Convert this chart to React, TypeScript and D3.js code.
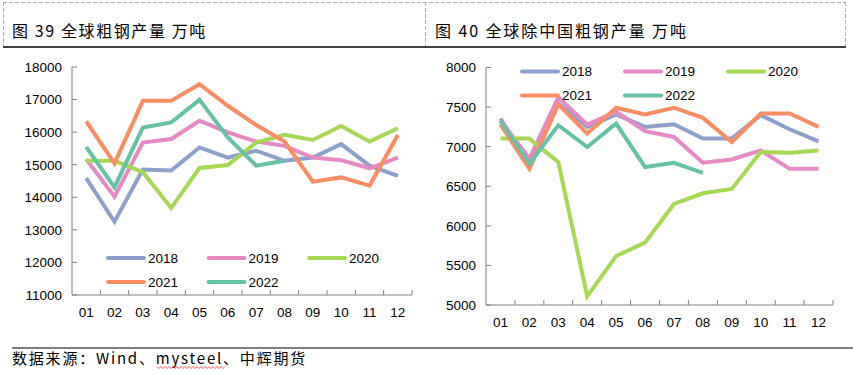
import React from 'react';
import * as d3 from 'd3';

const months = ['01', '02', '03', '04', '05', '06', '07', '08', '09', '10', '11', '12'];
const years = ['2018', '2019', '2020', '2021', '2022'];
const colors = ['#8da0cb', '#e78ac3', '#a6d854', '#fc8d62', '#66c2a5'];

// 全球粗钢产量 万吨
const world2018 = [14590, 13250, 14850, 14820, 15530, 15220, 15430, 15120, 15220, 15630, 14970, 14660];
const world2019 = [15170, 14020, 15680, 15790, 16350, 15990, 15710, 15580, 15220, 15140, 14890, 15220];
const world2020 = [15120, 15120, 14770, 13670, 14900, 14990, 15680, 15920, 15760, 16190, 15710, 16120];
const world2021 = [16330, 15040, 16960, 16960, 17470, 16810, 16220, 15710, 14480, 14610, 14360, 15910];
const world2022 = [15550, 14310, 16140, 16300, 16990, 15840, 14970, 15120];

// 全球除中国粗钢产量 万吨
const exChina2018 = [7356, 6742, 7547, 7250, 7407, 7250, 7284, 7102, 7102, 7398, 7220, 7068];
const exChina2019 = [7335, 6847, 7623, 7280, 7441, 7195, 7123, 6797, 6839, 6953, 6720, 6720];
const exChina2020 = [7102, 7102, 6805, 5110, 5619, 5788, 6276, 6411, 6467, 6932, 6924, 6953];
const exChina2021 = [7280, 6720, 7534, 7165, 7492, 7407, 7492, 7364, 7059, 7419, 7419, 7250];
const exChina2022 = [7322, 6784, 7271, 6996, 7292, 6742, 6797, 6669];

const worldTicks = [11000, 12000, 13000, 14000, 15000, 16000, 17000, 18000];
const exChinaTicks = [5000, 5500, 6000, 6500, 7000, 7500, 8000];

const numFont = '"Liberation Sans", Arial, sans-serif';
const cjkFont = '"Noto Sans CJK SC", sans-serif';
const axisColor = '#808080';

type PanelProps = {
  x0: number; x1: number; yTop: number; yBottom: number;
  domain: [number, number]; ticks: number[];
  series: number[][];
  legendX: number; legendY: number; legendStep: number;
  labelY: number;
};

const Panel = ({ x0, x1, yTop, yBottom, domain, ticks, series, legendX, legendY, legendStep, labelY }: PanelProps) => {
  const x = d3.scaleBand<string>().domain(months).range([x0, x1]);
  const y = d3.scaleLinear().domain(domain).range([yBottom, yTop]);
  const line = d3.line<number>()
    .x((_, i) => (x(months[i]) as number) + x.bandwidth() / 2)
    .y(d => y(d));

  return (
    <g>
      {series.map((s, i) => (
        <path key={i} d={line(s) as string} fill="none" stroke={colors[i]} strokeWidth={4}
          strokeLinejoin="miter" />
      ))}
      <line x1={x0} x2={x0} y1={yTop} y2={yBottom} stroke={axisColor} strokeWidth={1} />
      <line x1={x0} x2={x1} y1={yBottom} y2={yBottom} stroke={axisColor} strokeWidth={1} />
      {ticks.map(t => (
        <g key={t}>
          <line x1={x0} x2={x0 + 5} y1={y(t)} y2={y(t)} stroke={axisColor} />
          <text x={x0 - 10} y={y(t)} dy="0.36em" textAnchor="end" fontFamily={numFont} fontSize={13.5}
            fill="#000">{t}</text>
        </g>
      ))}
      {months.map((m, i) => (
        <g key={m}>
          {i > 0 && <line x1={x(m)} x2={x(m)} y1={yBottom} y2={yBottom - 5} stroke={axisColor} />}
          <text x={(x(m) as number) + x.bandwidth() / 2} y={labelY} textAnchor="middle" fontFamily={numFont}
            fontSize={13.5} fill="#000">{m}</text>
        </g>
      ))}
      <line x1={x1} x2={x1} y1={yBottom} y2={yBottom - 5} stroke={axisColor} />
      {years.map((yr, i) => {
        const lx = legendX + (i % 3) * legendStep;
        const ly = legendY + Math.floor(i / 3) * 24;
        return (
          <g key={yr}>
            <line x1={lx} x2={lx + 36} y1={ly} y2={ly} stroke={colors[i]} strokeWidth={4} strokeLinecap="round" />
            <text x={lx + 40} y={ly} dy="0.36em" fontFamily={numFont} fontSize={13.5} fill="#000">{yr}</text>
          </g>
        );
      })}
    </g>
  );
};

// spell-check style wavy underline
const wavy = (xa: number, xb: number, yy: number) => {
  let d = `M${xa},${yy}`;
  for (let xx = xa; xx < xb; xx += 4) d += ` l2,2 l2,-2`;
  return d;
};

const App = () => {
  return (
    <svg width={853} height={374} style={{ position: 'absolute', left: 0, top: 0, background: '#fff' }}>
      {/* title frame */}
      <line x1={3} x2={846} y1={2.5} y2={2.5} stroke="#b0b0b0" strokeDasharray="4,2" />
      <line x1={3.5} x2={3.5} y1={2} y2={47} stroke="#b0b0b0" strokeDasharray="4,2" />
      <line x1={425.5} x2={425.5} y1={2} y2={47} stroke="#b0b0b0" strokeDasharray="4,2" />
      <line x1={845.5} x2={845.5} y1={2} y2={47} stroke="#b0b0b0" strokeDasharray="4,2" />
      <line x1={3} x2={846} y1={47} y2={47} stroke="#000" strokeWidth={1.5} />
      <text x={12} y={37} fontFamily={cjkFont} fontSize={16} letterSpacing={1.6} fill="#000">图 39 全球粗钢产量 万吨</text>
      <text x={435} y={37} fontFamily={cjkFont} fontSize={16} letterSpacing={1.9} fill="#000">图 40 全球除中国粗钢产量 万吨</text>

      <Panel x0={72} x1={412} yTop={67} yBottom={295} domain={[11000, 18000]} ticks={worldTicks}
        series={[world2018, world2019, world2020, world2021, world2022]}
        legendX={108} legendY={258} legendStep={100.5} labelY={317} />
      <Panel x0={486} x1={833} yTop={67.5} yBottom={305} domain={[5000, 8000]} ticks={exChinaTicks}
        series={[exChina2018, exChina2019, exChina2020, exChina2021, exChina2022]}
        legendX={522} legendY={71.5} legendStep={103} labelY={327} />

      {/* source */}
      <line x1={12} x2={853} y1={348} y2={348} stroke="#000" strokeWidth={1.2} />
      <text x={12} y={364} fontFamily={cjkFont} fontSize={15} letterSpacing={1.8} fill="#000">数据来源：Wind、mysteel、中辉期货</text>
      <path d={wavy(157, 222, 366.5)} fill="none" stroke="#e03030" strokeWidth={0.8} />
    </svg>
  );
};

export default App;
